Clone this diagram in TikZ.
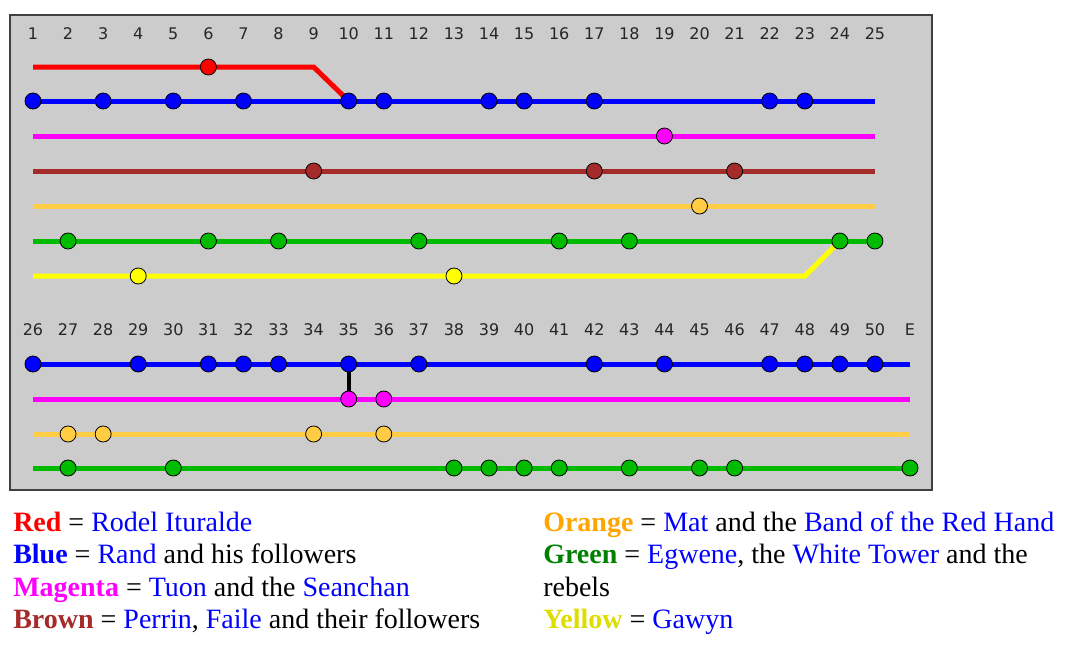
\documentclass[tikz,border=0pt]{standalone}
\usepackage{fontspec}
\setmainfont{Liberation Serif}
\newfontfamily\chapfont{DejaVu Sans}

\definecolor{panelgray}{HTML}{CCCCCC}
\definecolor{cred}{HTML}{FF0000}
\definecolor{cblue}{HTML}{0000FF}
\definecolor{cmag}{HTML}{FF00FF}
\definecolor{cbrown}{HTML}{A52A2A}
\definecolor{corange}{HTML}{FFCC44}
\definecolor{cgreen}{HTML}{00BB00}
\definecolor{cyellow}{HTML}{FFFF00}
\definecolor{torange}{HTML}{FFA500}
\definecolor{tgreen}{HTML}{008000}
\definecolor{tyellow}{HTML}{DDDD00}

\tikzset{
  track/.style={line width=3.75pt},
  stop/.style={circle, draw=black, line width=0.6pt, inner sep=0pt, minimum size=12pt},
  chap/.style={font=\chapfont\fontsize{12}{12}\selectfont, text=black!85},
  legend/.style={anchor=base west, inner sep=0pt, font=\fontsize{21}{25}\selectfont}
}

\begin{document}
\begin{tikzpicture}[x=0.75pt, y=-0.75pt, declare function={cx(\c)=33+35.08*(\c-1);}]
    % 1. Khung nền
    \useasboundingbox (0,0) rectangle (1070,646);
    \draw[fill=panelgray, draw=black!75, line width=1.2pt] (10,15) rectangle (932,490);

    % 2. Số chương (hai dãy)
    \foreach \c in {1,...,25}
        \node[chap] (n\c) at ({cx(\c)},34) {\c};
    \foreach \c in {26,...,50}
        \node[chap] (n\c) at ({cx(\c-25)},330) {\c};
    \node[chap] (nE) at ({cx(26)},330) {E};

    % 3. Các đường (dãy trên)
    \coordinate (redK) at ({cx(9)},67);
    \coordinate (redE) at ({cx(10)},101);
    \coordinate (yelK) at ({cx(23)},276);
    \coordinate (yelE) at ({cx(24)},241);
    \draw[track, cred] (33,67) -- (redK) -- (redE);
    \draw[track, cblue] (33,101) -- (875,101);
    \draw[track, cmag] (33,136) -- (875,136);
    \draw[track, cbrown] (33,171) -- (875,171);
    \draw[track, corange] (33,206) -- (875,206);
    \draw[track, cgreen] (33,241) -- (875,241);
    \draw[track, cyellow] (33,276) -- (yelK) -- (yelE);

    % Các đường (dãy dưới)
    \draw[track, cblue] (33,364) -- (910,364);
    \draw[track, cmag] (33,399) -- (910,399);
    \draw[track, corange] (33,434) -- (910,434);
    \draw[track, cgreen] (33,468) -- (910,468);

    % 4. Điểm xuất hiện (dãy trên)
    \node[stop, fill=cred] (r6) at ({cx(6)},67) {};
    \foreach \c in {1,3,5,7,10,11,14,15,17,22,23}
        \node[stop, fill=cblue] (b\c) at ({cx(\c)},101) {};
    \node[stop, fill=cmag] (m19) at ({cx(19)},136) {};
    \foreach \c in {9,17,21}
        \node[stop, fill=cbrown] (w\c) at ({cx(\c)},171) {};
    \node[stop, fill=corange] (o20) at ({cx(20)},206) {};
    \foreach \c in {2,6,8,12,16,18,24,25}
        \node[stop, fill=cgreen] (g\c) at ({cx(\c)},241) {};
    \foreach \c in {4,13}
        \node[stop, fill=cyellow] (y\c) at ({cx(\c)},276) {};

    % Điểm xuất hiện (dãy dưới, E = 51)
    \foreach \c in {26,29,31,32,33,35,37,42,44,47,48,49,50}
        \node[stop, fill=cblue] (b\c) at ({cx(\c-25)},364) {};
    \foreach \c in {35,36}
        \node[stop, fill=cmag] (m\c) at ({cx(\c-25)},399) {};
    \foreach \c in {27,28,34,36}
        \node[stop, fill=corange] (o\c) at ({cx(\c-25)},434) {};
    \foreach \c in {27,30,38,39,40,41,43,45,46,51}
        \node[stop, fill=cgreen] (g\c) at ({cx(\c-25)},468) {};

    % 5. Nối Rand với Tuon ở chương 35
    \draw[line width=3pt, black] (b35) -- (m35);

    % 6. Chú thích
    \node[legend] (leg1) at (13,531)
        {\textcolor{cred}{\textbf{Red}} = \textcolor{cblue}{Rodel Ituralde}};
    \node[legend] (leg2) at (13,563)
        {\textcolor{cblue}{\textbf{Blue}} = \textcolor{cblue}{Rand} and his followers};
    \node[legend] (leg3) at (13,596)
        {\textcolor{cmag}{\textbf{Magenta}} = \textcolor{cblue}{Tuon} and the \textcolor{cblue}{Seanchan}};
    \node[legend] (leg4) at (13,628)
        {\textcolor{cbrown}{\textbf{Brown}} = \textcolor{cblue}{Perrin}, \textcolor{cblue}{Faile} and their followers};
    \node[legend] (leg5) at (543,531)
        {\textcolor{torange}{\textbf{Orange}} = \textcolor{cblue}{Mat} and the \textcolor{cblue}{Band of the Red Hand}};
    \node[legend] (leg6) at (543,563)
        {\textcolor{tgreen}{\textbf{Green}} = \textcolor{cblue}{Egwene}, the \textcolor{cblue}{White Tower} and the};
    \node[legend] (leg7) at (543,596) {rebels};
    \node[legend] (leg8) at (543,628)
        {\textcolor{tyellow}{\textbf{Yellow}} = \textcolor{cblue}{Gawyn}};
\end{tikzpicture}
\end{document}
